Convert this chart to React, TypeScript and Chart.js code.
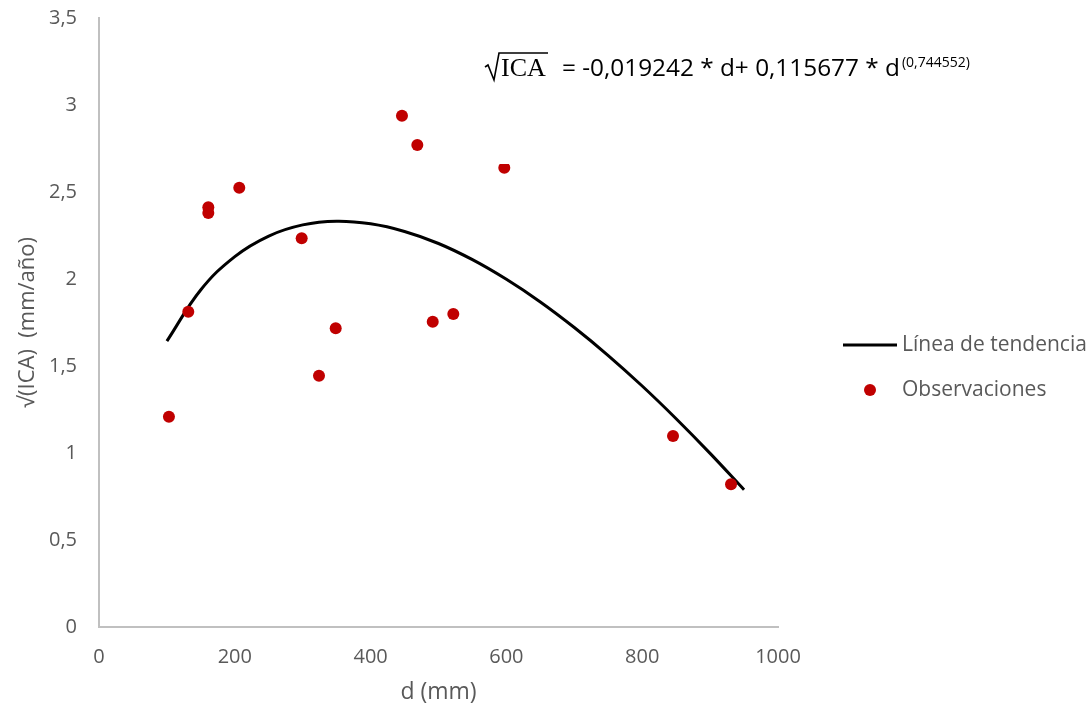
import { useEffect, useRef } from "react";
import { Chart, registerables } from "chart.js";
Chart.register(...registerables);

// Observed points (d in mm, sqrt(ICA))
const obsD = [103, 131.5, 161, 161, 206.6, 298.5, 324, 348.6, 446.2, 468.8, 491.5, 521.8, 596.9, 845.4, 930.8];
const obsY = [1.209, 1.812, 2.413, 2.379, 2.525, 2.234, 1.444, 1.717, 2.938, 2.77, 1.754, 1.799, 2.64, 1.098, 0.82];

// Trend line
const trendD = [100, 150, 200, 250, 300, 350, 400, 450, 500, 550, 600, 650, 700, 750, 800, 850, 900, 950];
const trendY = [1.643, 1.938, 2.129, 2.247, 2.311, 2.332, 2.317, 2.273, 2.204, 2.111, 1.998, 1.868, 1.721, 1.56, 1.385, 1.197, 0.998, 0.789];

const xTitle = "d (mm)";
const yTitle = "√(ICA)  (mm/año)";
const legendLabels = ["Línea de tendencia", "Observaciones"];
const eqMain = "= -0,019242 * d+ 0,115677 * d";
const eqSup = "(0,744552)";

const GRAY = "#595959";
const RED = "#c00000";
const FONT = '"Open Sans", "DejaVu Sans", sans-serif';

export default function App() {
  const ref = useRef<HTMLCanvasElement | null>(null);
  useEffect(() => {
    if (!ref.current) return;
    const deco = {
      id: "deco",
      afterDatasetsDraw(chart: any) {
        const ctx = chart.ctx as CanvasRenderingContext2D;
        const ca = chart.chartArea;
        ctx.save();
        // equation text box (white background)
        ctx.fillStyle = "#ffffff";
        ctx.fillRect(470, 30, 530, 134);
        // radical
        ctx.strokeStyle = "#000";
        ctx.lineWidth = 1.6;
        ctx.beginPath();
        ctx.moveTo(485, 67);
        ctx.lineTo(488, 65);
        ctx.lineTo(494, 80);
        ctx.lineTo(499, 53);
        ctx.lineTo(548, 53);
        ctx.stroke();
        ctx.fillStyle = "#000";
        ctx.textBaseline = "alphabetic";
        ctx.textAlign = "left";
        ctx.font = '26px "Liberation Serif", serif';
        ctx.fillText("ICA", 501, 76);
        ctx.font = `21px ${FONT}`;
        const w0 = ctx.measureText(eqMain).width;
        const size = (21 * 338) / w0;
        ctx.font = `${size}px ${FONT}`;
        ctx.fillText(eqMain, 562, 76);
        const w = ctx.measureText(eqMain).width;
        ctx.font = `14px ${FONT}`;
        ctx.fillText(eqSup, 562 + w + 2, 67);

        // axis titles
        ctx.fillStyle = GRAY;
        ctx.font = `23px ${FONT}`;
        ctx.textAlign = "center";
        ctx.textBaseline = "middle";
        ctx.fillText(xTitle, (ca.left + ca.right) / 2, 692);
        ctx.save();
        ctx.translate(28, (ca.top + ca.bottom) / 2);
        ctx.rotate(-Math.PI / 2);
        ctx.font = `22px ${FONT}`;
        ctx.fillText(yTitle, 0, 0);
        ctx.restore();

        // legend
        ctx.strokeStyle = "#000";
        ctx.lineWidth = 3;
        ctx.beginPath();
        ctx.moveTo(843, 345);
        ctx.lineTo(897, 345);
        ctx.stroke();
        ctx.fillStyle = RED;
        ctx.beginPath();
        ctx.arc(870, 390, 6, 0, Math.PI * 2);
        ctx.fill();
        ctx.fillStyle = GRAY;
        ctx.textAlign = "left";
        ctx.font = `21px ${FONT}`;
        ctx.fillText(legendLabels[0], 902, 345);
        ctx.fillText(legendLabels[1], 902, 390);
        ctx.restore();
      },
    };
    const chart = new Chart(ref.current, {
      type: "scatter",
      data: {
        datasets: [
          {
            label: legendLabels[1],
            data: obsD.map((d, i) => ({ x: d, y: obsY[i] })),
            backgroundColor: RED,
            borderColor: RED,
            pointRadius: 6,
            borderWidth: 0,
            order: 0,
          },
          {
            label: legendLabels[0],
            type: "line",
            data: trendD.map((d, i) => ({ x: d, y: trendY[i] })),
            borderColor: "#000",
            borderWidth: 3,
            pointRadius: 0,
            tension: 0.4,
            fill: false,
            order: 1,
          } as any,
        ],
      },
      options: {
        animation: false,
        responsive: true,
        maintainAspectRatio: false,
        layout: { padding: { top: 18, right: 313, left: 0, bottom: 0 } },
        plugins: { legend: { display: false }, tooltip: { enabled: false } },
        scales: {
          x: {
            type: "linear",
            min: 0,
            max: 1000,
            ticks: {
              stepSize: 200,
              color: GRAY,
              font: { family: FONT, size: 20 },
              padding: 18,
              callback: (v: any) => String(v),
            },
            grid: { display: false, drawTicks: false },
            border: { color: "#c0c0c0", width: 2 },
            afterFit: (s: any) => {
              s.height = 85;
              s.paddingLeft = 0;
              s.paddingRight = 0;
              s.paddingTop = 0;
              s.paddingBottom = 0;
            },
          },
          y: {
            min: 0,
            max: 3.5,
            ticks: {
              stepSize: 0.5,
              color: GRAY,
              font: { family: FONT, size: 20 },
              padding: 22,
              callback: (v: any) => String(v).replace(".", ","),
            },
            grid: { display: false, drawTicks: false },
            border: { color: "#c0c0c0", width: 2 },
            afterFit: (s: any) => {
              s.width = 99;
              s.paddingTop = 0;
              s.paddingBottom = 0;
              s.paddingLeft = 0;
              s.paddingRight = 0;
            },
          },
        },
      },
      plugins: [deco],
    });
    return () => chart.destroy();
  }, []);
  return (
    <div style={{ position: "fixed", left: 0, top: 0, width: 1091, height: 712, background: "#fff" }}>
      <canvas ref={ref} />
    </div>
  );
}
